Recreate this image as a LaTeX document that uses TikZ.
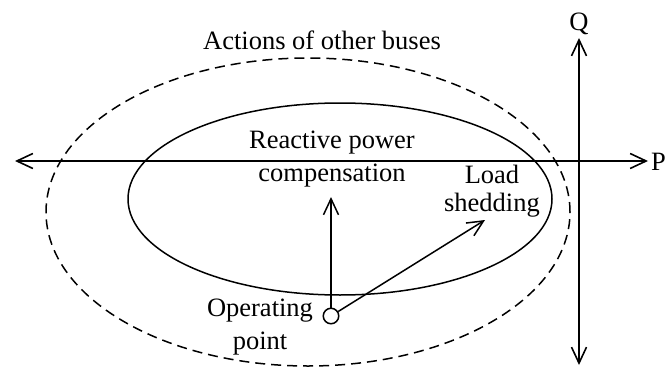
\documentclass[tikz,border=0pt]{standalone}
\usepackage{fontspec}
\setmainfont{Liberation Serif}
\usetikzlibrary{arrows.meta}
\tikzset{
  tnode/.style={inner sep=0pt, font=\fontsize{26.5}{33}\selectfont, align=center},
  onode/.style={circle, draw, fill=white, minimum size=15.5pt, inner sep=0pt, line width=1.5pt},
  paxis/.style={line width=1.6pt, {Straight Barb[length=16pt,width=15pt]}-{Straight Barb[length=16pt,width=15pt]}},
  mvarrow/.style={line width=1.5pt, -{Straight Barb[length=16pt,width=15pt]}},
  iregion/.style={line width=1.5pt},
  oregion/.style={line width=1.5pt, dash pattern=on 10pt off 6pt},
}

\begin{document}
\begin{tikzpicture}[x=1pt, y=-1pt]
  \useasboundingbox (0,0) rectangle (666,369);
  % regions
  \draw[oregion] (308,212) ellipse [x radius=262pt, y radius=154pt];
  \draw[iregion] (340,199) ellipse [x radius=212pt, y radius=96pt];
  % axes
  \coordinate (pw) at (15,161);
  \coordinate (pe) at (648,161);
  \coordinate (qn) at (579,38);
  \coordinate (qs) at (579,365);
  \draw[paxis] (pw) -- (pe);
  \draw[paxis] (qs) -- (qn);
  \node[tnode, anchor=base east] (plbl) at (666,170) {P};
  \node[tnode, anchor=base] (qlbl) at (579,31) {Q};
  % labels (base = last line)
  \node[tnode, anchor=base] (act) at (322,50) {Actions of other buses};
  \node[tnode, anchor=base] (rpc) at (332,181) {Reactive power\\compensation};
  \node[tnode, anchor=base, font=\fontsize{26.5}{28.5}\selectfont] (ls) at (492,211.5) {Load\\shedding};
  \node[tnode, anchor=base] (opl) at (260,349) {Operating\\point};
  % operating point and moves
  \node[onode] (op) at (331,316) {};
  \coordinate (rpctip) at (331,197);
  \coordinate (lstip) at (485,220);
  \draw[mvarrow] (op) -- (rpctip);
  \draw[mvarrow] (op) -- (lstip);
\end{tikzpicture}
\end{document}
